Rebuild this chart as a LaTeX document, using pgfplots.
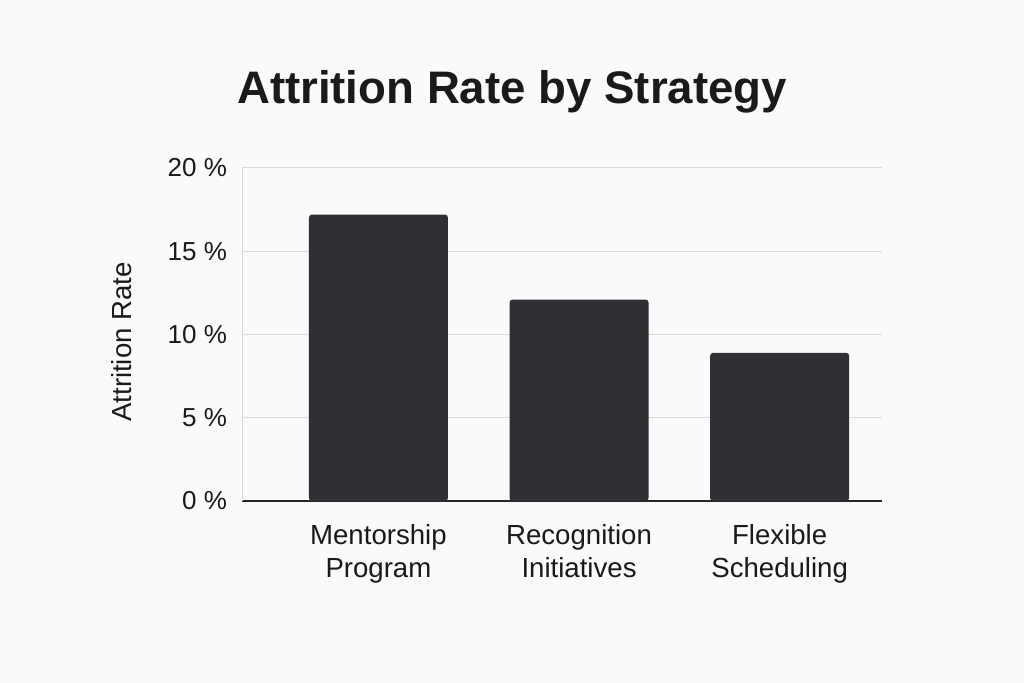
\documentclass[border=0pt]{standalone}
\usepackage{pgfplots}
\pgfplotsset{compat=1.18}
\usepackage{fontspec}
\setmainfont{Liberation Sans}
\definecolor{barc}{HTML}{2E3034}
\definecolor{bg}{HTML}{FAFAFA}
\definecolor{gridc}{HTML}{DADADA}
\definecolor{txt}{HTML}{1A1A1A}
\begin{document}
\begin{tikzpicture}[x=1pt,y=1pt]
\fill[bg] (0,0) rectangle (512,341.5);
\node[font=\bfseries\fontsize{22.8}{26}\selectfont, text=txt] at (256,295.5) {Attrition Rate by Strategy};
\node[rotate=90, font=\fontsize{13.8}{16}\selectfont, text=txt] at (61,170.5) {Attrition Rate};
\begin{axis}[
  at={(121pt,91pt)}, anchor=south west,
  scale only axis, width=320pt, height=166.5pt,
  xmin=-0.68, xmax=2.51, ymin=0, ymax=20,
  axis x line*=bottom, axis y line*=left,
  x axis line style={draw=black!85, line width=0.7pt},
  y axis line style={draw=gridc, line width=0.5pt},
  ymajorgrids, grid style={draw=gridc, line width=0.5pt},
  major tick length=0pt,
  ytick={0,5,10,15,20},
  yticklabels={0 \%,5 \%,10 \%,15 \%,20 \%},
  xtick={0,1,2},
  xticklabels={Mentorship\\Program,Recognition\\Initiatives,Flexible\\Scheduling},
  xticklabel style={align=center, font=\fontsize{13.8}{16.5}\selectfont, text=txt, yshift=-8pt},
  yticklabel style={font=\fontsize{13}{15}\selectfont, text=txt, xshift=-4pt},
]
\addplot[ybar, fill=barc, draw=none, bar width=69.5pt, rounded corners=1.5pt] coordinates {(0,17.2) (1,12.1) (2,8.9)};
\end{axis}
\end{tikzpicture}
\end{document}
